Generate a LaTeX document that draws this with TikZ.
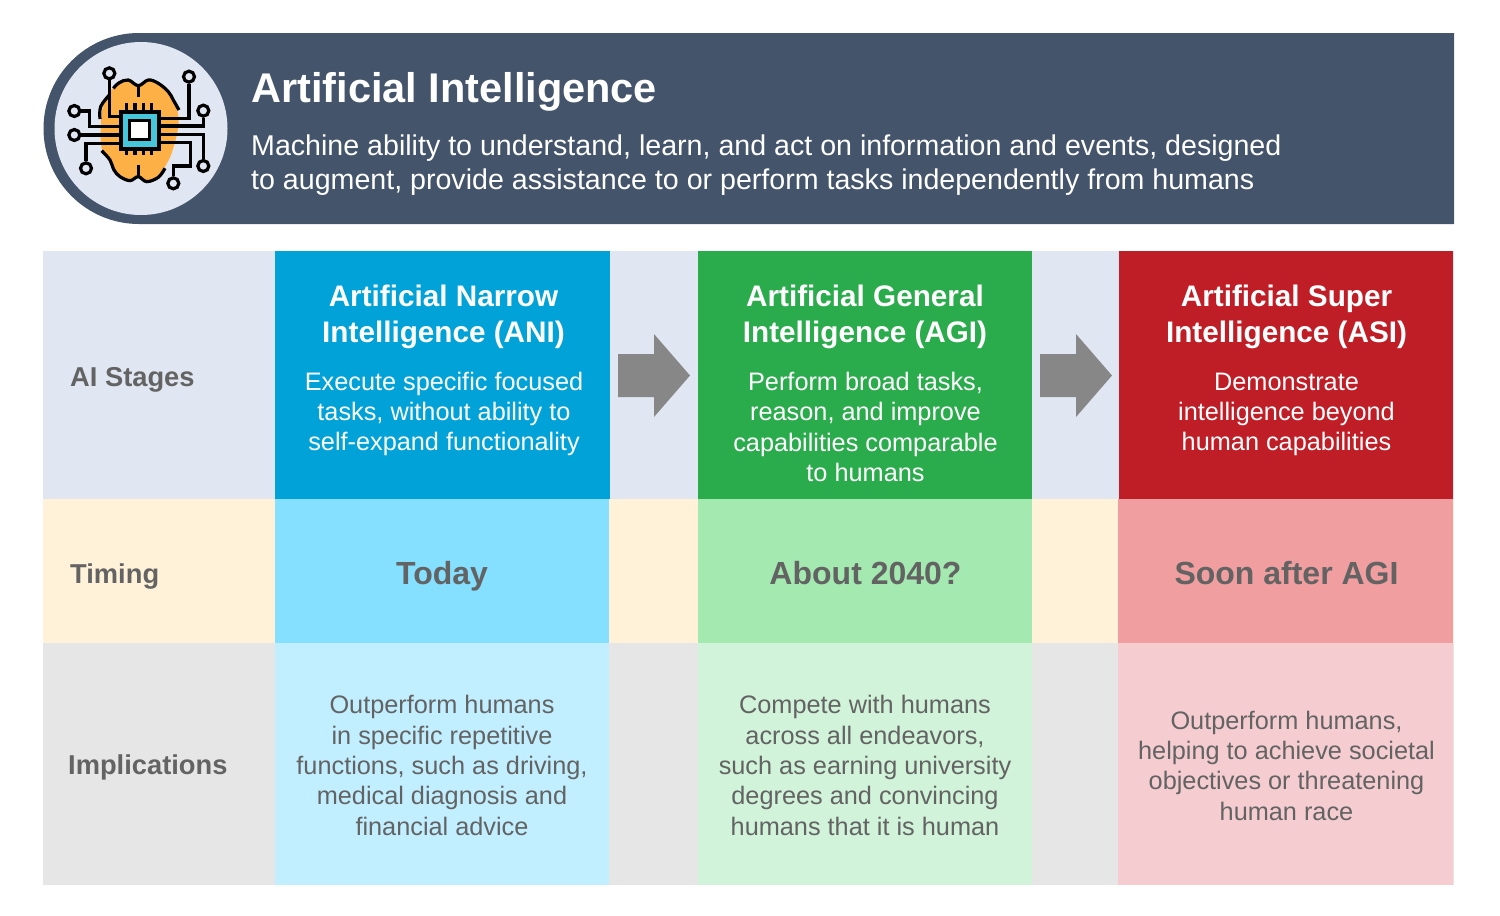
\documentclass[tikz,border=0pt]{standalone}
\usepackage{fontspec}
\setmainfont{Liberation Sans}
\definecolor{navy}{HTML}{44546A}
\definecolor{rowa}{HTML}{E0E7F3}
\definecolor{rowb}{HTML}{FFF2D9}
\definecolor{rowc}{HTML}{E6E6E6}
\definecolor{aniA}{HTML}{00A2D8}
\definecolor{aniB}{HTML}{85DFFF}
\definecolor{aniC}{HTML}{C1EFFF}
\definecolor{agiA}{HTML}{2BAC4C}
\definecolor{agiB}{HTML}{A3E9B0}
\definecolor{agiC}{HTML}{D1F3D9}
\definecolor{asiA}{HTML}{BF1E26}
\definecolor{asiB}{HTML}{F09EA0}
\definecolor{asiC}{HTML}{F5CDD0}
\definecolor{txt}{HTML}{636363}
\definecolor{arrowgrey}{HTML}{878787}
\definecolor{brainorange}{HTML}{FDB045}
\definecolor{chipcyan}{HTML}{45C6DB}
\newcommand{\fs}[1]{\fontsize{#1}{#1}\selectfont}
\tikzset{
  x=1pt,y=-1pt,
  headtext/.style={text=white,align=center,font=\fs{29.7}\bfseries,inner sep=0pt},
  bodywhite/.style={text=white,align=center,font=\fs{25.3},inner sep=0pt},
  bodygrey/.style={text=txt,align=center,font=\fs{25.3},inner sep=0pt},
  timetext/.style={text=txt,align=center,font=\fs{32}\bfseries,inner sep=0pt},
  rowlabel/.style={text=txt,anchor=west,font=\fs{27.3}\bfseries,inner sep=0pt},
  stagearrow/.style={fill=arrowgrey,draw=none},
  wire/.style={draw=black,line width=3.2pt},
  pad/.style={draw=black,line width=3.2pt,fill=rowa,circle,minimum size=11pt,inner sep=0pt},
}
\newcommand{\cellbox}[6]{\fill[#6] (#2,#3) rectangle (#4,#5);\coordinate (#1) at ({(#2+#4)/2},{(#3+#5)/2});}
\begin{document}
\begin{tikzpicture}
\useasboundingbox (0,0) rectangle (1500,916);
% header
\fill[navy] (139,33) arc[start angle=90,end angle=270,radius=95.5pt] -- (1454,224) -- (1454,33) -- cycle;
\fill[rowa] (141,128.5) circle[radius=86.5pt];
\begin{scope}[shift={(30,20)},x=0.3333pt,y=-0.3333pt]
  \fill[brainorange] plot[smooth cycle,tension=0.6] coordinates {(325,195) (295,180) (265,190) (240,215) (222,250) (213,300) (215,385) (240,420) (252,450) (270,470) (300,482) (325,470) (350,485) (385,472) (405,440) (425,400) (445,320) (440,265) (415,215) (385,190) (355,180)};
  \draw[wire] plot[smooth,tension=0.6] coordinates {(210,297) (212,260) (238,225)};
  \draw[wire] plot[smooth,tension=0.6] coordinates {(250,205) (268,188) (295,180) (325,197) (355,180) (385,190) (415,215) (430,240) (447,270)};
  \draw[wire] (325,197) -- (325,230);
  \draw[wire] plot[smooth,tension=0.6] coordinates {(215,392) (240,420) (252,450) (270,470) (300,482) (325,470) (350,485) (385,472) (405,445)};
  \draw[wire] (325,470) -- (325,435);
  \foreach \i in {290,315,340,365}{\draw[wire] (\i,250) -- (\i,275); \draw[wire] (\i,385) -- (\i,405);}
  \node[pad] (p1) at (238,160) {};
  \node[pad] (p2) at (477,170) {};
  \node[pad] (p3) at (520,272) {};
  \node[pad] (p4) at (133,273) {};
  \node[pad] (p5) at (133,345) {};
  \node[pad] (p6) at (168,445) {};
  \node[pad] (p7) at (520,438) {};
  \node[pad] (p8) at (430,490) {};
  \draw[wire] (p1.south) -- (238,290) -- (270,290);
  \draw[wire] (p2.south) -- (477,295) -- (385,295);
  \draw[wire] (p3.south) -- (520,318) -- (385,318);
  \draw[wire] (p4.east) -- (178,273) -- (178,320) -- (270,320);
  \draw[wire] (p5.east) -- (270,345);
  \draw[wire] (p6.north) -- (168,370) -- (270,370);
  \draw[wire] (p7.north) -- (520,343) -- (385,343);
  \draw[wire] (p8.north) -- (430,438) -- (482,438) -- (482,368) -- (385,368);
  \fill[black] (266,270) rectangle (392,392);
  \fill[chipcyan] (278,281) rectangle (380,380);
  \fill[black] (295,297) rectangle (362,364);
  \fill[white] (304,306) rectangle (353,355);
\end{scope}
\node[anchor=west,text=white,font=\fs{41.5}\bfseries,inner sep=0pt] (title) at (251,92) {Artificial Intelligence};
\node[anchor=west,text=white,align=left,font=\fs{28.6},inner sep=0pt] (desc) at (251,165) {Machine ability to understand, learn, and act on information and events, designed\\[4.8pt]to augment, provide assistance to or perform tasks independently from humans};
% rows
\fill[rowa] (43,251) rectangle (1454,499);
\fill[rowb] (43,499) rectangle (1454,643);
\fill[rowc] (43,643) rectangle (1454,885);
% columns
\cellbox{ca}{275}{251}{610}{499}{aniA}
\cellbox{cb}{698}{251}{1032}{499}{agiA}
\cellbox{cc}{1119}{251}{1453}{499}{asiA}
\cellbox{ta}{275}{499}{609}{643}{aniB}
\cellbox{tb}{698}{499}{1032}{643}{agiB}
\cellbox{tc}{1118}{499}{1453}{643}{asiB}
\cellbox{ia}{275}{643}{609}{885}{aniC}
\cellbox{ib}{698}{643}{1032}{885}{agiC}
\cellbox{ic}{1118}{643}{1453}{885}{asiC}
% row labels
\node[rowlabel] (l1) at (70,380) {AI Stages};
\node[rowlabel] (l2) at (70,576) {Timing};
\node[rowlabel] (l3) at (68,767.5) {Implications};
% arrows
\fill[stagearrow] (618,354) -- (654,354) -- (654,334) -- (690,375.5) -- (654,417) -- (654,397) -- (618,397) -- cycle;
\fill[stagearrow] (1040,354) -- (1076,354) -- (1076,334) -- (1112,375.5) -- (1076,417) -- (1076,397) -- (1040,397) -- cycle;
% stage text
\node[headtext] (ha) at (443.5,317) {Artificial Narrow\\[6pt]Intelligence (ANI)};
\node[headtext] (hb) at (865,317) {Artificial General\\[6pt]Intelligence (AGI)};
\node[headtext] (hc) at (1286.5,317) {Artificial Super\\[6pt]Intelligence (ASI)};
\node[bodywhite] (ba) at (444,414) {Execute specific focused\\[5pt]tasks, without ability to\\[5pt]self-expand functionality};
\node[bodywhite] (bb) at (865.5,427) {Perform broad tasks,\\[5pt]reason, and improve\\[5pt]capabilities comparable\\[5pt]to humans};
\node[bodywhite] (bc) at (1286.5,414.5) {Demonstrate\\[5pt]intelligence beyond\\[5pt]human capabilities};
% timing
\node[timetext] (tta) at (442,576) {Today};
\node[timetext] (ttb) at (865.5,573) {About 2040?};
\node[timetext] (ttc) at (1286.5,573) {Soon after AGI};
% implications
\node[bodygrey] (ita) at (442,765.5) {Outperform humans\\[5pt]in specific repetitive\\[5pt]functions, such as driving,\\[5pt]medical diagnosis and\\[5pt]financial advice};
\node[bodygrey] (itb) at (865,765.5) {Compete with humans\\[5pt]across all endeavors,\\[5pt]such as earning university\\[5pt]degrees and convincing\\[5pt]humans that it is human};
\node[bodygrey] (itc) at (1286.5,765.5) {Outperform humans,\\[5pt]helping to achieve societal\\[5pt]objectives or threatening\\[5pt]human race};
\end{tikzpicture}
\end{document}
